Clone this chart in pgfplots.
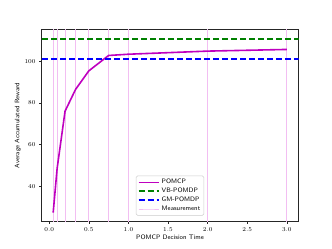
\documentclass[border=0pt]{standalone}
\usepackage{pgfplots}
\pgfplotsset{compat=1.18}
\definecolor{mpm}{HTML}{BF00BF}
\definecolor{mpg}{HTML}{008000}
\definecolor{mpb}{HTML}{0000FF}
\definecolor{meas}{HTML}{F2BEF2}
\begin{document}
\begin{tikzpicture}
\path[use as bounding box] (0,0) rectangle (332bp,249bp);
\begin{axis}[
  at={(41.5bp,27.5bp)}, anchor=south west,
  scale only axis, width=257bp, height=192bp,
  xmin=-0.0975, xmax=3.1475, ymin=23, ymax=115.4,
  xtick={0,0.5,...,3.0}, ytick={40,60,80,100},
  xticklabel style={/pgf/number format/fixed,/pgf/number format/fixed zerofill,/pgf/number format/precision=1},
  tick label style={font=\fontsize{6.5}{7}\selectfont},
  tick align=outside, tick pos=left, major tick length=2.5bp,
  axis line style={line width=0.6bp, black!85},
  every tick/.style={line width=0.6bp, black!85},
  xlabel={\sffamily POMCP Decision Time},
  ylabel={\sffamily Average Accumulated Reward},
  label style={font=\fontsize{6.5}{7}\selectfont},
  xlabel style={yshift=3bp},
  ylabel style={yshift=-3bp},
  unbounded coords=jump,
  legend style={at={(0.5,0.03)}, anchor=south, font=\fontsize{6.5}{7.8}\selectfont\sffamily,
    draw=black!20, rounded corners=1.5bp, line width=0.5bp, fill=white, fill opacity=0.8, text opacity=1,
    row sep=-1.2bp, inner sep=1.5bp},
  legend cell align=left,
  legend image post style={xscale=1.2},
]
\addplot[meas, line width=0.8bp, forget plot] coordinates {
(0.05,0)(0.05,200)(0.05,nan)
(0.1,0)(0.1,200)(0.1,nan)
(0.2,0)(0.2,200)(0.2,nan)
(0.333,0)(0.333,200)(0.333,nan)
(0.5,0)(0.5,200)(0.5,nan)
(0.75,0)(0.75,200)(0.75,nan)
(1.0,0)(1.0,200)(1.0,nan)
(2.0,0)(2.0,200)(2.0,nan)
(3.0,0)(3.0,200)
};
\addplot[mpm, line width=1.6bp] coordinates {
(0.05,27.3)(0.1,48.6)(0.2,76.1)(0.333,86.6)(0.5,95.5)(0.75,102.9)(1.0,103.5)(2.0,105.0)(3.0,105.8)
};
\addlegendentry{POMCP}
\addplot[mpg, line width=1.6bp, dash pattern=on 6bp off 3bp] coordinates {(-1,110.9)(4,110.9)};
\addlegendentry{VB-POMDP}
\addplot[mpb, line width=1.6bp, dash pattern=on 6bp off 3bp] coordinates {(-1,101.3)(4,101.3)};
\addlegendentry{GM-POMDP}
\addlegendimage{meas, line width=0.8bp}
\addlegendentry{Measurement}
\end{axis}
\end{tikzpicture}
\end{document}
